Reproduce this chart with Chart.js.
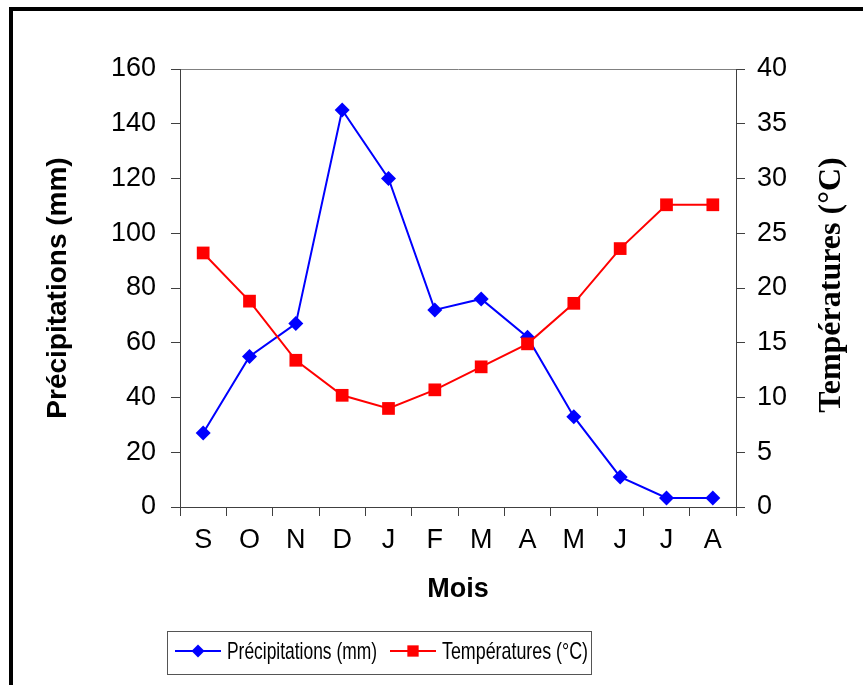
<!DOCTYPE html>
<html>
<head>
<meta charset="utf-8">
<script src="https://cdn.jsdelivr.net/npm/chart.js@4/dist/chart.umd.min.js"></script>
<style>
  html, body { margin: 0; padding: 0; background: #fff; }
  #wrap { position: relative; width: 863px; height: 685px; }
</style>
</head>
<body>
<div id="wrap"><canvas id="chart"></canvas></div>
<script>
// --- data ---
const months = ['S', 'O', 'N', 'D', 'J', 'F', 'M', 'A', 'M', 'J', 'J', 'A'];
const precipitations = [27, 55, 67, 145, 120, 72, 76, 62, 33, 11, 3.3, 3.3];
const temperatures = [23.2, 18.8, 13.4, 10.2, 9.0, 10.7, 12.8, 14.9, 18.6, 23.6, 27.6, 27.6];
const seriesNames = ['Précipitations (mm)', 'Températures (°C)'];
const axisTitles = { x: 'Mois', left: 'Précipitations (mm)', right: 'Températures (°C)' };

const BLUE = '#0000ff';
const RED = '#ff0000';
const AXIS = '#404040';

Chart.defaults.font.family = '"Liberation Sans", Arial, sans-serif';
Chart.defaults.color = '#000';

// frame, right axis title and boxed legend (drawn by hand like the Excel original)
const decorations = {
    id: 'decorations',
    beforeDraw(chart) {
        const ctx = chart.ctx;
        ctx.save();
        ctx.fillStyle = '#000';
        ctx.fillRect(9, 7, 854, 4);
        ctx.fillRect(9, 7, 4, 678);
        ctx.restore();
    },
    afterDraw(chart) {
        const ctx = chart.ctx;
        const area = chart.chartArea;

        // right title, reading upward, serif bold
        ctx.save();
        ctx.translate(832, (area.top + area.bottom) / 2 - 3);
        ctx.rotate(-Math.PI / 2);
        ctx.font = 'bold 32px "Liberation Serif", "Times New Roman", serif';
        ctx.fillStyle = '#000';
        ctx.textAlign = 'center';
        ctx.textBaseline = 'middle';
        ctx.fillText(axisTitles.right, 0, 0);
        ctx.restore();

        // legend box
        ctx.save();
        ctx.strokeStyle = '#555';
        ctx.lineWidth = 1;
        ctx.strokeRect(167.5, 631.5, 424, 43);
        const entries = [
            { x: 175, textX: 227, textW: 150, ds: chart.data.datasets[0] },
            { x: 390, textX: 442, textW: 146, ds: chart.data.datasets[1] }
        ];
        const cy = 651;
        entries.forEach(e => {
            ctx.strokeStyle = e.ds.borderColor;
            ctx.lineWidth = 2;
            ctx.beginPath();
            ctx.moveTo(e.x, cy);
            ctx.lineTo(e.x + 46, cy);
            ctx.stroke();
            ctx.fillStyle = e.ds.borderColor;
            Chart.helpers.drawPoint(ctx, {
                pointStyle: e.ds.pointStyle,
                radius: e.ds.pointStyle === 'rect' ? 8 : 6.5,
                borderWidth: 0
            }, e.x + 23, cy);

            ctx.save();
            ctx.font = '24px "Liberation Sans", Arial, sans-serif';
            ctx.fillStyle = '#000';
            ctx.textBaseline = 'middle';
            const w = ctx.measureText(e.ds.label).width;
            ctx.translate(e.textX, cy + 1);
            ctx.scale(e.textW / w, 1);
            ctx.fillText(e.ds.label, 0, 0);
            ctx.restore();
        });
        ctx.restore();
    }
};

new Chart(document.getElementById('chart'), {
    type: 'line',
    data: {
        labels: months,
        datasets: [{
            label: seriesNames[0],
            data: precipitations,
            yAxisID: 'y',
            borderColor: BLUE,
            backgroundColor: BLUE,
            borderWidth: 2,
            pointStyle: 'rectRot',
            pointRadius: 7.5,
            pointBorderWidth: 0,
            pointBackgroundColor: BLUE,
            tension: 0,
            order: 1
        }, {
            label: seriesNames[1],
            data: temperatures,
            yAxisID: 'y1',
            borderColor: RED,
            backgroundColor: RED,
            borderWidth: 2,
            pointStyle: 'rect',
            pointRadius: 9,
            pointBorderWidth: 0,
            pointBackgroundColor: RED,
            tension: 0,
            order: 0
        }]
    },
    options: {
        responsive: true,
        maintainAspectRatio: false,
        animation: false,
        layout: { padding: { top: 69, left: 0, right: 0, bottom: 0 } },
        plugins: {
            legend: { display: false },
            tooltip: { enabled: false }
        },
        scales: {
            x: {
                offset: true,
                afterFit: s => { s.height = 178; },
                grid: {
                    offset: true,
                    drawOnChartArea: false,
                    tickLength: 9,
                    tickColor: AXIS
                },
                border: { display: true, color: AXIS, width: 1 },
                ticks: { font: { size: 27 }, padding: 8, maxRotation: 0, autoSkip: false },
                title: {
                    display: true,
                    text: axisTitles.x,
                    font: { size: 27, weight: 'bold' },
                    padding: { top: 0, bottom: 79 }
                }
            },
            y: {
                position: 'left',
                min: 0,
                max: 160,
                afterFit: s => { s.width = 180; },
                ticks: { stepSize: 20, font: { size: 27 }, padding: 15 },
                grid: {
                    tickLength: 9,
                    color: c => (c.tick && c.tick.value === 160) ? '#808080' : 'rgba(0,0,0,0)',
                    tickColor: AXIS
                },
                border: { display: true, color: AXIS, width: 1 },
                title: {
                    display: true,
                    text: axisTitles.left,
                    font: { size: 28, weight: 'bold' },
                    padding: { top: 41, bottom: 0 }
                }
            },
            y1: {
                position: 'right',
                min: 0,
                max: 40,
                afterFit: s => { s.width = 127; },
                ticks: { stepSize: 5, font: { size: 27 }, padding: 12 },
                grid: {
                    drawOnChartArea: false,
                    tickLength: 9,
                    tickColor: AXIS
                },
                border: { display: true, color: AXIS, width: 1 }
            }
        }
    },
    plugins: [decorations]
});
</script>
</body>
</html>
